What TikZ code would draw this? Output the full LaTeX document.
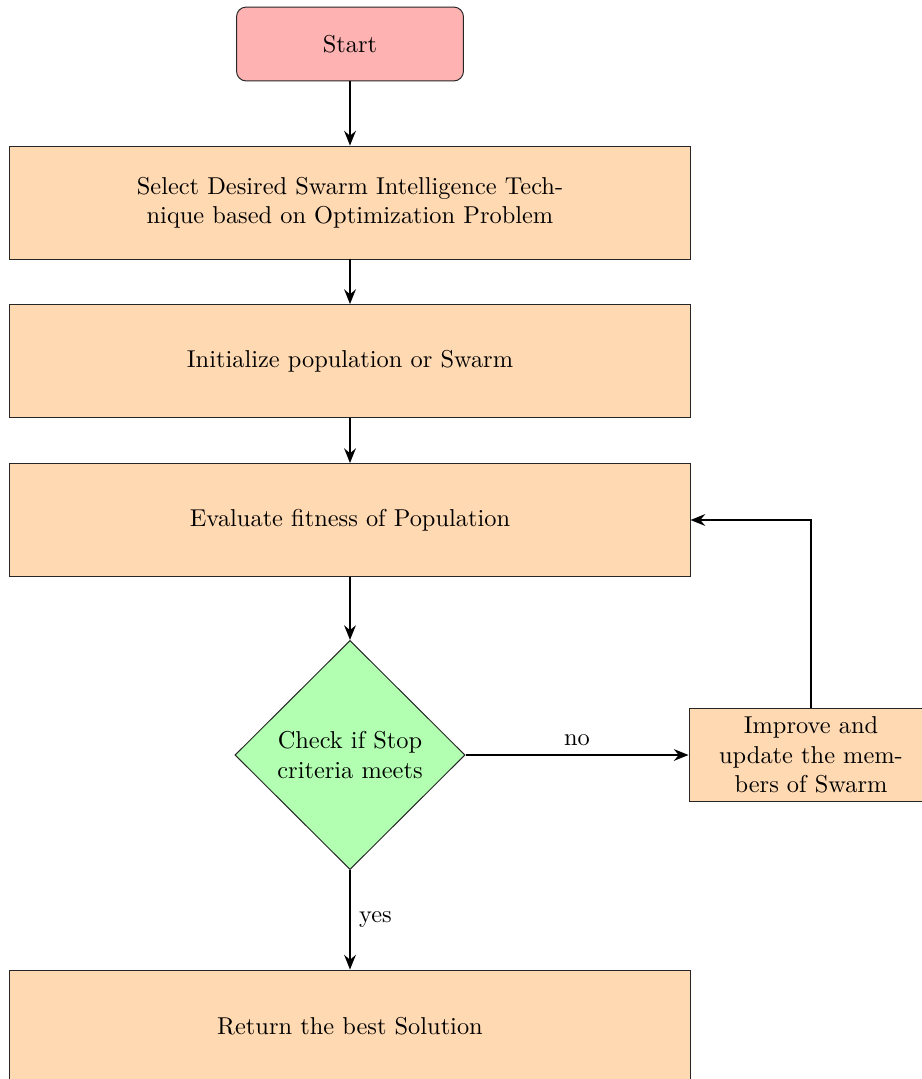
\documentclass[tikz,border=0pt]{standalone}
\usetikzlibrary{shapes.geometric,arrows.meta}
\begin{document}
\begin{tikzpicture}[x=0.4098pt,y=-0.4098pt,
  procbox/.style={rectangle,draw=black!85,line width=0.4pt,fill=orange!30,
    minimum width=278.7pt,minimum height=46.3pt,text width=6.5cm,align=center},
  startbox/.style={rectangle,rounded corners=4pt,draw=black!85,line width=0.4pt,fill=red!30,
    minimum width=93pt,minimum height=30.3pt,align=center},
  decbox/.style={diamond,draw=black!85,line width=0.4pt,fill=green!30,
    minimum width=94.3pt,minimum height=93.9pt,inner sep=0pt,text width=2.5cm,align=center},
  impbox/.style={rectangle,draw=black!85,line width=0.4pt,fill=orange!30,
    minimum width=100pt,minimum height=37pt,text width=2.8cm,align=center},
  arr/.style={thick,-{Stealth[length=6pt,width=4.8pt,inset=2pt]}}]
\useasboundingbox (0,0) rectangle (922,1079);
\node[startbox] (start) at (350,44) {Start};
\node[procbox] (b1) at (350,202.5) {Select Desired Swarm Intelligence Technique based on Optimization Problem};
\node[procbox] (b2) at (350,361) {Initialize population or Swarm};
\node[procbox] (b3) at (350,520) {Evaluate fitness of Population};
\node[decbox] (dec) at (350,755) {Check if Stop criteria meets};
\node[impbox] (imp) at (811,755) {Improve and update the members of Swarm};
\node[procbox] (ret) at (350,1026.5) {Return the best Solution};
\draw[arr] (start) -- (b1);
\draw[arr] (b1) -- (b2);
\draw[arr] (b2) -- (b3);
\draw[arr] (b3) -- (dec);
\draw[arr] (dec) -- node[above] {no} (imp);
\draw[arr] (dec) -- node[right] {yes} (ret);
\draw[arr] (imp.north) |- (b3.east);
\end{tikzpicture}
\end{document}
